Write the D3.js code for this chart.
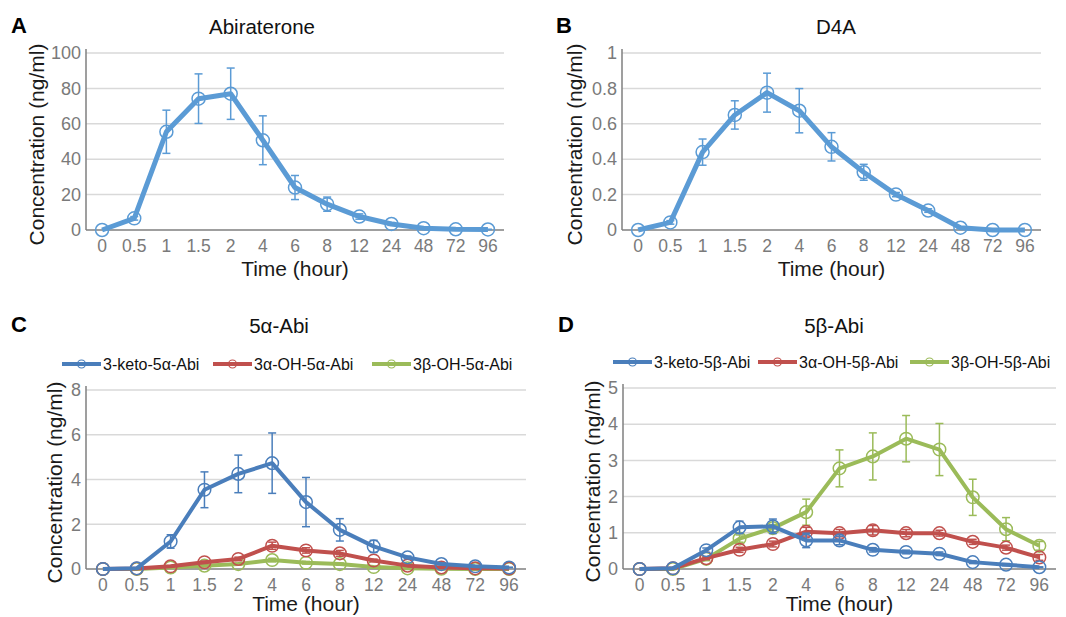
<!DOCTYPE html>
<html>
<head>
<meta charset="utf-8">
<script src="https://cdn.jsdelivr.net/npm/d3@7"></script>
<style>
  body { margin: 0; background: #fff; }
  svg { font-family: "Liberation Sans", Arial, Helvetica, sans-serif; }
</style>
</head>
<body>
<div id="vis"></div>
<script>
const FRAME_WIDTH = 1066;
const FRAME_HEIGHT = 617;

// time points, shared by every panel
const TIMES = ['0', '0.5', '1', '1.5', '2', '4', '6', '8', '12', '24', '48', '72', '96'];

// panel A: abiraterone
const ABI_MEAN = [0, 6.6, 55.5, 74.2, 77, 50.7, 24, 14.6, 7.6, 3.4, 1, 0.4, 0.3];
const ABI_ERR = [0, 1, 12.2, 14, 14.5, 13.8, 6.8, 4, 1.5, 0.8, 0.3, 0.2, 0.1];

// panel B: D4A
const D4A_MEAN = [0, 0.043, 0.44, 0.65, 0.776, 0.674, 0.47, 0.326, 0.2, 0.11, 0.013, 0, 0];
const D4A_ERR = [0, 0.01, 0.074, 0.08, 0.11, 0.125, 0.08, 0.045, 0.012, 0.01, 0.005, 0, 0];

// panel C: 5a-Abi metabolites
const KETO_5A = [0, 0.03, 1.23, 3.54, 4.25, 4.73, 2.99, 1.75, 1.01, 0.52, 0.22, 0.12, 0.07];
const KETO_5A_ERR = [0, 0.02, 0.3, 0.8, 0.84, 1.35, 1.1, 0.5, 0.27, 0.06, 0.03, 0.02, 0.01];
const AOH_5A = [0, 0.02, 0.12, 0.3, 0.45, 1.04, 0.83, 0.7, 0.38, 0.15, 0.07, 0.03, 0.02];
const AOH_5A_ERR = [0, 0, 0.03, 0.05, 0.08, 0.16, 0.12, 0.13, 0.06, 0.03, 0.01, 0.01, 0];
const BOH_5A = [0, 0, 0.07, 0.15, 0.22, 0.4, 0.28, 0.22, 0.09, 0.03, 0.01, 0, 0];
const BOH_5A_ERR = [0, 0, 0.02, 0.03, 0.04, 0.08, 0.06, 0.05, 0.02, 0.01, 0, 0, 0];

// panel D: 5b-Abi metabolites
const KETO_5B = [0, 0.02, 0.52, 1.15, 1.18, 0.79, 0.79, 0.53, 0.47, 0.42, 0.19, 0.12, 0.05];
const KETO_5B_ERR = [0, 0.01, 0.06, 0.17, 0.2, 0.2, 0.12, 0.06, 0.05, 0.05, 0.04, 0.03, 0.01];
const AOH_5B = [0, 0.02, 0.3, 0.53, 0.69, 1.03, 0.99, 1.07, 0.99, 0.99, 0.75, 0.59, 0.32];
const AOH_5B_ERR = [0, 0.01, 0.04, 0.07, 0.08, 0.12, 0.1, 0.13, 0.1, 0.08, 0.07, 0.07, 0.08];
const BOH_5B = [0, 0, 0.28, 0.84, 1.13, 1.57, 2.78, 3.11, 3.6, 3.3, 1.98, 1.1, 0.64];
const BOH_5B_ERR = [0, 0, 0.05, 0.1, 0.1, 0.36, 0.51, 0.65, 0.64, 0.72, 0.5, 0.32, 0.12];

const PANELS = [
  {
    letter: 'A', letterX: 11, title: 'Abiraterone', titleX: 262, titleY: 26,
    left: 86, right: 504, top: 53, bottom: 230, xTitleGap: 46,
    yMax: 100, yTicks: [0, 20, 40, 60, 80, 100], yTitleX: 36, lineWidth: 5, r: 6.5,
    series: [{ name: '', mean: ABI_MEAN, err: ABI_ERR, color: '#5b9bd5' }]
  },
  {
    letter: 'B', letterX: 556, title: 'D4A', titleX: 836, titleY: 26,
    left: 622, right: 1041, top: 53, bottom: 230, xTitleGap: 46,
    yMax: 1, yTicks: [0, 0.2, 0.4, 0.6, 0.8, 1], yTitleX: 574, lineWidth: 5, r: 6.5,
    series: [{ name: '', mean: D4A_MEAN, err: D4A_ERR, color: '#5b9bd5' }]
  },
  {
    letter: 'C', letterX: 11, title: '5α-Abi', titleX: 279, titleY: 325,
    left: 86, right: 526, top: 390, bottom: 569, xTitleGap: 42,
    yMax: 8, yTicks: [0, 2, 4, 6, 8], yTitleX: 54, lineWidth: 4, r: 6.3,
    legendX: [62, 213, 372],
    series: [
      { name: '3-keto-5α-Abi', mean: KETO_5A, err: KETO_5A_ERR, color: '#4a7ebb' },
      { name: '3α-OH-5α-Abi', mean: AOH_5A, err: AOH_5A_ERR, color: '#c0504d' },
      { name: '3β-OH-5α-Abi', mean: BOH_5A, err: BOH_5A_ERR, color: '#9bbb59' }
    ]
  },
  {
    letter: 'D', letterX: 558, title: '5β-Abi', titleX: 834, titleY: 325,
    left: 623, right: 1056, top: 388, bottom: 569, xTitleGap: 42,
    yMax: 5, yTicks: [0, 1, 2, 3, 4, 5], yTitleX: 592, lineWidth: 4, r: 6.3,
    legendX: [613, 758, 910],
    series: [
      { name: '3-keto-5β-Abi', mean: KETO_5B, err: KETO_5B_ERR, color: '#4a7ebb' },
      { name: '3α-OH-5β-Abi', mean: AOH_5B, err: AOH_5B_ERR, color: '#c0504d' },
      { name: '3β-OH-5β-Abi', mean: BOH_5B, err: BOH_5B_ERR, color: '#9bbb59' }
    ]
  }
];

const FRAME = d3
  .select('#vis')
  .append('svg')
  .attr('width', FRAME_WIDTH)
  .attr('height', FRAME_HEIGHT);

function buildPanel(p) {
  const g = FRAME.append('g');

  const X_SCALE = d3.scaleBand().domain(TIMES).range([p.left, p.right]);
  const Y_SCALE = d3.scaleLinear().domain([0, p.yMax]).range([p.bottom, p.top]);
  const cx = (t) => X_SCALE(t) + X_SCALE.bandwidth() / 2;

  // gridlines
  g.append('g')
    .selectAll('line')
    .data(p.yTicks.slice(1))
    .enter()
    .append('line')
    .attr('x1', p.left)
    .attr('x2', p.right)
    .attr('y1', (d) => Y_SCALE(d))
    .attr('y2', (d) => Y_SCALE(d))
    .attr('stroke', '#d9d9d9')
    .attr('stroke-width', 1.5);

  // y axis
  const yAxis = g.append('g')
    .attr('transform', 'translate(' + p.left + ',0)')
    .call(d3.axisLeft(Y_SCALE).tickValues(p.yTicks).tickSize(0).tickPadding(5).tickFormat(d3.format('~g')));
  yAxis.select('.domain').attr('stroke', '#7f7f7f').attr('stroke-width', 1.5)
    .attr('d', 'M0,' + (p.bottom) + 'V' + (p.top - 4));
  yAxis.selectAll('text').attr('font-size', '18px').attr('fill', '#7a7a7a');

  // x axis
  const xAxis = g.append('g')
    .attr('transform', 'translate(0,' + p.bottom + ')')
    .call(d3.axisBottom(X_SCALE).tickSize(0).tickPadding(10));
  xAxis.select('.domain').attr('stroke', '#7f7f7f').attr('stroke-width', 1.5)
    .attr('d', 'M' + p.left + ',0H' + p.right);
  xAxis.selectAll('text').attr('font-size', '17.5px').attr('fill', '#7a7a7a');

  // axis titles
  g.append('text')
    .attr('x', (p.left + p.right) / 2)
    .attr('y', p.bottom + p.xTitleGap)
    .attr('text-anchor', 'middle')
    .attr('font-size', '21px')
    .attr('fill', '#1a1a1a')
    .text('Time (hour)');

  g.append('text')
    .attr('transform', 'translate(' + p.yTitleX + ',' + ((p.top + p.bottom) / 2 + 3) + ') rotate(-90)')
    .attr('text-anchor', 'middle')
    .attr('dominant-baseline', 'central')
    .attr('font-size', '21px')
    .attr('fill', '#1a1a1a')
    .text('Concentration (ng/ml)');

  // panel title and letter
  g.append('text')
    .attr('x', p.titleX)
    .attr('y', p.titleY)
    .attr('text-anchor', 'middle')
    .attr('dominant-baseline', 'central')
    .attr('font-size', '20.5px')
    .attr('fill', '#111')
    .text(p.title);

  g.append('text')
    .attr('x', p.letterX)
    .attr('y', p.titleY - 1)
    .attr('dominant-baseline', 'central')
    .attr('font-size', '22px')
    .attr('font-weight', 'bold')
    .attr('fill', '#000')
    .text(p.letter);

  // series, drawn in reverse so the first one is on top
  p.series.slice().reverse().forEach((s) => {
    const pts = TIMES.map((t, i) => ({ t: t, v: s.mean[i], e: s.err[i] }));
    const sg = g.append('g');

    sg.append('path')
      .datum(pts)
      .attr('fill', 'none')
      .attr('stroke', s.color)
      .attr('stroke-width', p.lineWidth)
      .attr('stroke-linejoin', 'round')
      .attr('d', d3.line().x((d) => cx(d.t)).y((d) => Y_SCALE(d.v)));

    const bars = sg.selectAll('.err')
      .data(pts.filter((d) => d.e > 0))
      .enter()
      .append('g')
      .attr('stroke', s.color)
      .attr('stroke-width', 1.5);
    bars.append('line')
      .attr('x1', (d) => cx(d.t)).attr('x2', (d) => cx(d.t))
      .attr('y1', (d) => Y_SCALE(d.v + d.e)).attr('y2', (d) => Y_SCALE(d.v - d.e));
    bars.append('line')
      .attr('x1', (d) => cx(d.t) - 4).attr('x2', (d) => cx(d.t) + 4)
      .attr('y1', (d) => Y_SCALE(d.v + d.e)).attr('y2', (d) => Y_SCALE(d.v + d.e));
    bars.append('line')
      .attr('x1', (d) => cx(d.t) - 4).attr('x2', (d) => cx(d.t) + 4)
      .attr('y1', (d) => Y_SCALE(d.v - d.e)).attr('y2', (d) => Y_SCALE(d.v - d.e));

    sg.selectAll('circle')
      .data(pts)
      .enter()
      .append('circle')
      .attr('cx', (d) => cx(d.t))
      .attr('cy', (d) => Y_SCALE(d.v))
      .attr('r', p.r)
      .attr('fill', 'none')
      .attr('stroke', s.color)
      .attr('stroke-width', 1.5);
  });

  // legend
  if (p.legendX) {
    const ly = p.top - 26;
    p.series.forEach((s, i) => {
      const lx = p.legendX[i];
      g.append('line')
        .attr('x1', lx).attr('x2', lx + 39)
        .attr('y1', ly).attr('y2', ly)
        .attr('stroke', s.color)
        .attr('stroke-width', 4);
      g.append('circle')
        .attr('cx', lx + 19.5).attr('cy', ly)
        .attr('r', 4)
        .attr('fill', 'none')
        .attr('stroke', s.color)
        .attr('stroke-width', 1.2);
      g.append('text')
        .attr('x', lx + 41)
        .attr('y', ly)
        .attr('dominant-baseline', 'central')
        .attr('font-size', '16px')
        .attr('fill', '#111')
        .text(s.name);
    });
  }
}

PANELS.forEach(buildPanel);
</script>
</body>
</html>
